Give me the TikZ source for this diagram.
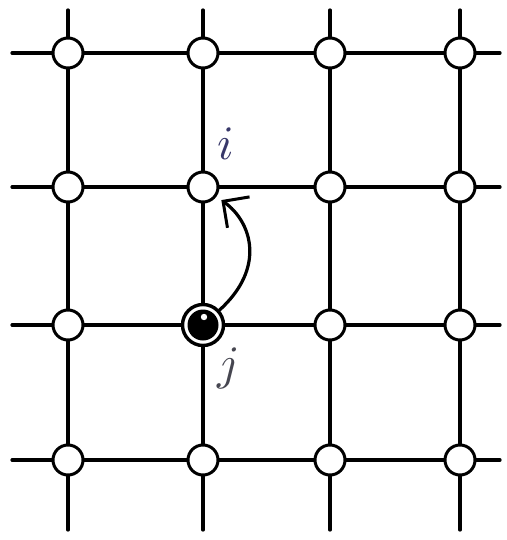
\documentclass[tikz,border=0pt]{standalone}
\usepackage{xcolor}
\usetikzlibrary{arrows.meta,calc,positioning}
\definecolor{InkBlue}{RGB}{55,55,105}
\definecolor{InkGray}{RGB}{70,70,80}

\begin{document}
\begin{tikzpicture}[x=1pt, y=-1pt,
		site/.style={circle, draw, line width=3pt, fill=white, minimum size=30pt, inner sep=0pt},
		bond/.style={line width=3.2pt, line cap=round},
		tag/.style={inner sep=0pt, scale=4.8}]
	\useasboundingbox (0,0) rectangle (506,540);
	% lattice sites
	\foreach \r/\y in {1/53,2/187,3/325,4/460}
		\foreach \c/\x in {1/68,2/203,3/330,4/460}
			\node[site] (s\r\c) at (\x,\y) {};
	% free ends of the bonds
	\foreach \r/\y in {1/53,2/187,3/325,4/460} {
		\coordinate (l\r) at (12,\y);
		\coordinate (e\r) at (500,\y);
	}
	\foreach \c/\x in {1/68,2/203,3/330,4/460} {
		\coordinate (t\c) at (\x,10);
		\coordinate (b\c) at (\x,530);
	}
	% bonds
	\foreach \r in {1,...,4} {
		\draw[bond] (l\r) -- (s\r1);
		\draw[bond] (s\r1) -- (s\r2);
		\draw[bond] (s\r2) -- (s\r3);
		\draw[bond] (s\r3) -- (s\r4);
		\draw[bond] (s\r4) -- (e\r);
	}
	\foreach \c in {1,...,4} {
		\draw[bond] (t\c) -- (s1\c);
		\draw[bond] (s1\c) -- (s2\c);
		\draw[bond] (s2\c) -- (s3\c);
		\draw[bond] (s3\c) -- (s4\c);
		\draw[bond] (s4\c) -- (b\c);
	}
	% occupied site j
	\node[site, minimum size=41pt, line width=3.4pt] (j) at (s32) {};
	\fill (j.center) circle (15.5);
	\fill[white] ($(j.center)+(1,-8)$) circle (3.2);
	% labels
	\node[tag, InkBlue] (li) at (226,144) {$i$};
	\node[tag, InkGray] (lj) at (229,368) {$j$};
	% hop
	\draw[bond, shorten >=6pt, -{Straight Barb[length=19pt, width=38pt, line width=3pt]}]
		(j) .. controls (266,268) and (252,222) .. (s22);
\end{tikzpicture}
\end{document}
